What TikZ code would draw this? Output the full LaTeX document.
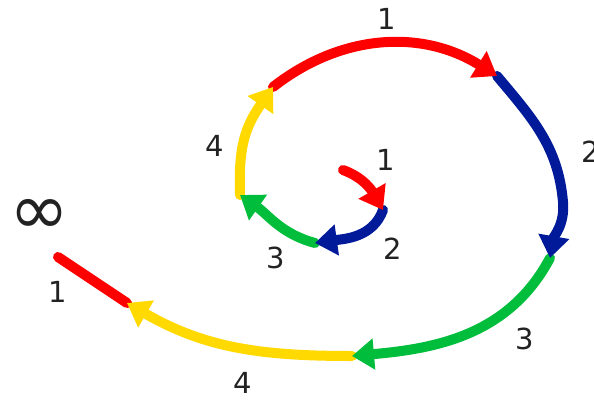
\documentclass[tikz,border=0pt]{standalone}
\usepackage{fontspec}
\usepackage{graphicx}
\setmainfont{DejaVu Sans}
\usetikzlibrary{arrows.meta}
\definecolor{cred}{RGB}{255,0,0}
\definecolor{cblue}{RGB}{0,26,153}
\definecolor{cgreen}{RGB}{0,190,60}
\definecolor{cyellow}{RGB}{255,217,0}
\definecolor{ctext}{RGB}{34,34,34}
\tikzset{
  seg/.style={line width=10pt, line cap=round},
  arr/.style={seg, -{Triangle[length=22pt,width=30pt]}},
  lbl/.style={text=ctext, font=\fontsize{29}{34}\selectfont, inner sep=0pt},
}
\begin{document}
\begin{tikzpicture}[x=1pt,y=1pt]
\useasboundingbox (0,0) rectangle (594,400);
\clip (0,0) rectangle (594,400);
% path points (inner to outer)
\coordinate (A0) at (343,230);
\coordinate (A1) at (383,190);
\coordinate (A2) at (315,157);
\coordinate (A3) at (240,205);
\coordinate (A4) at (273,313);
\coordinate (A5) at (497,324);
\coordinate (M6) at (563,198);
\coordinate (A6) at (550,142);
\coordinate (A7) at (352,44);
\coordinate (A8) at (127,97);
\coordinate (A9) at (58,143);
% segments drawn outermost first
\draw[seg, cred] (A8) -- (A9);
\draw[arr, cyellow] (A7) to[out=180,in=-30] (A8);
\draw[arr, cgreen] (A6) to[out=-118,in=5] (A7);
\draw[arr, cblue] (A5) to[out=-50,in=95] (M6) to[out=-85,in=80] (A6);
\draw[arr, cred] (A4) to[out=38,in=148] (A5);
\draw[arr, cyellow] (A3) to[out=92,in=-125,looseness=1.1] (A4);
\draw[arr, cgreen] (A2) to[out=165,in=-35] (A3);
\draw[arr, cblue] (A1) to[out=-110,in=8] (A2);
\draw[arr, cred] (A0) to[out=-20,in=120] (A1);
% labels
\node[lbl] (inf) at (40,183) {\resizebox{60pt}{!}{∞}};
\node[lbl] (l1o) at (387,381) {1};
\node[lbl] (l2o) at (591,248) {2};
\node[lbl] (l3o) at (525,61) {3};
\node[lbl] (l4o) at (243,17) {4};
\node[lbl] (l1e) at (58,108) {1};
\node[lbl] (l4i) at (215,254) {4};
\node[lbl] (l1i) at (386,240) {1};
\node[lbl] (l2i) at (393,151) {2};
\node[lbl] (l3i) at (276,142) {3};
\end{tikzpicture}
\end{document}
